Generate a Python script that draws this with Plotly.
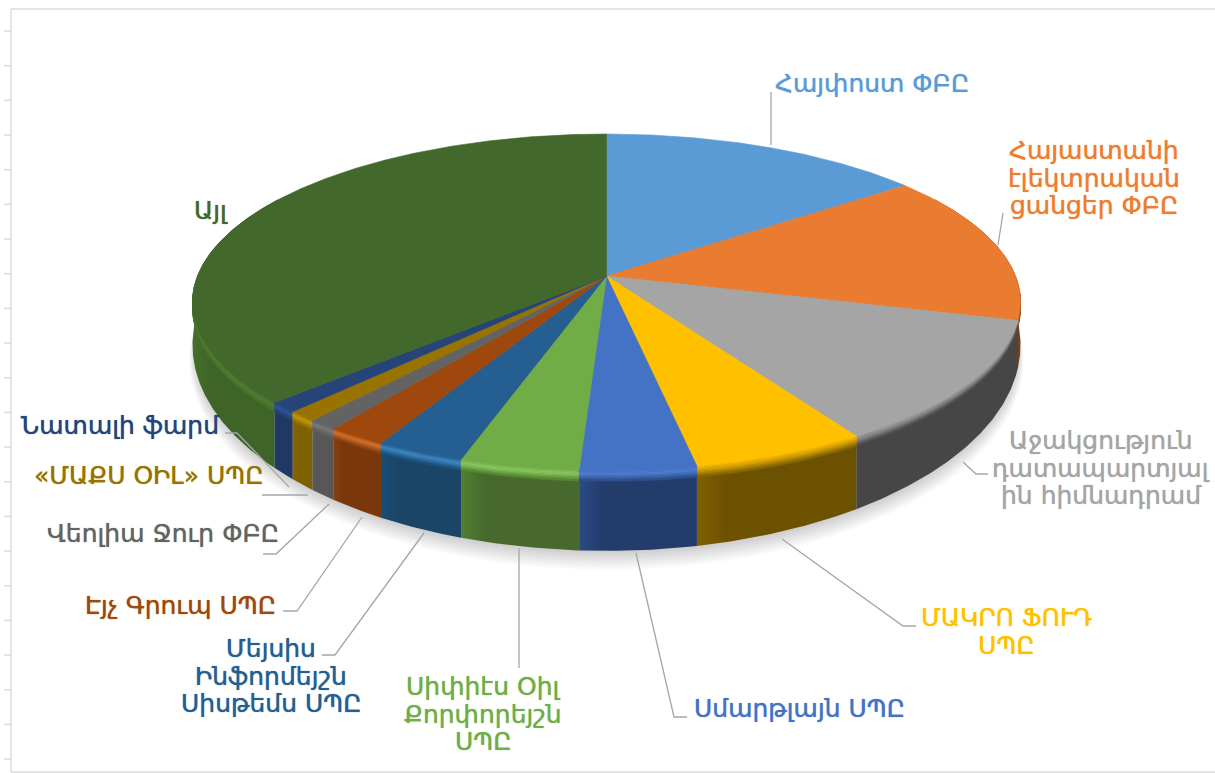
import numpy as np
import plotly.graph_objects as go

# ---- data (share of total, %) ----
companies = ["Հայփոստ ՓԲԸ", "Հայաստանի էլեկտրական ցանցեր ՓԲԸ", "Աջակցություն դատապարտյալ ին հիմնադրամ",
             "ՄԱԿՐՈ ՖՈՒԴ ՍՊԸ", "Սմարթլայն ՍՊԸ", "Սիփիէս Օիլ Քորփորեյշն ՍՊԸ",
             "Մեյսիս Ինֆորմեյշն Սիսթեմս ՍՊԸ", "Էյչ Գրուպ ՍՊԸ", "Վեոլիա Ջուր ՓԲԸ",
             "«ՄԱՔՍ ՕԻԼ» ՍՊԸ", "Նատալի ֆարմ", "Այլ"]
shares = [14.7, 14.5, 11.9, 5.9, 3.9, 4.0, 3.0, 2.0, 1.0, 1.0, 1.0, 37.1]

# ---- styles ----
top_colors = ["#5B9BD5", "#E97C30", "#A5A5A5", "#FFC000", "#4472C4", "#70AD47",
              "#255E91", "#9E480E", "#636363", "#997300", "#264478", "#43682B"]
rim_colors = ["#5B9BD5", "#A0561F", "#8A8A8A", "#D9A300", "#4F7FD0", "#8CCB62",
              "#3F8AC6", "#D9742F", "#7A7A7A", "#C89A10", "#30589C", "#527F35"]
side_dark = ["#2D4E6C", "#7A3F10", "#464646", "#6B5100", "#233C6B", "#47692D",
             "#1A4567", "#7A370B", "#575757", "#7F6000", "#1F3864", "#3F6428"]
side_light = ["#2D4E6C", "#8A4A14", "#464646", "#7F6000", "#2A4A85", "#50802F",
              "#1B4D75", "#84400E", "#5C5C5C", "#8A6A00", "#213E70", "#45702B"]
text_colors = ["#5B9BD5", "#ED7D31", "#A5A5A5", "#FFC000", "#4472C4", "#70AD47",
               "#255E91", "#9E480E", "#636363", "#997300", "#264478", "#43682B"]
# one entry per slice: lines of the label, their centre x and each line's y
labels = [(["Հայփոստ ՓԲԸ"], 872, [83]),
          (["Հայաստանի", "էլեկտրական", "ցանցեր ՓԲԸ"], 1094, [150, 178, 205]),
          (["Աջակցություն", "դատապարտյալ", "ին հիմնադրամ"], 1101, [440, 468, 495]),
          (["ՄԱԿՐՈ ՖՈՒԴ", "ՍՊԸ"], 1006, [617, 645]),
          (["Սմարթլայն ՍՊԸ"], 799, [708]),
          (["Սիփիէս Օիլ", "Քորփորեյշն", "ՍՊԸ"], 483, [686, 714, 741]),
          (["Մեյսիս", "Ինֆորմեյշն", "Սիսթեմս ՍՊԸ"], 271, [648, 676, 703]),
          (["Էյչ Գրուպ ՍՊԸ"], 180, [605]),
          (["Վեոլիա Ջուր ՓԲԸ"], 163, [533]),
          (["«ՄԱՔՍ ՕԻԼ» ՍՊԸ"], 149, [475]),
          (["Նատալի ֆարմ"], 120, [425]),
          (["Այլ"], 211, [210])]
leaders = [[(771, 92), (771, 145)], [(1003, 213), (998, 245)], [(988, 474), (976, 474), (963, 462)],
           [(916, 626), (903, 626), (782, 539)], [(687, 717), (674, 717), (636, 553)], [(519, 668), (519, 548)],
           [(322, 655), (335, 655), (424, 533)], [(283, 611), (297, 611), (362, 517)],
           [(263, 554), (276, 554), (329, 504)], [(262, 495), (308, 495)],
           [(225, 433), (237, 433), (289, 487)]]
FONT = "DejaVu Sans"
FONT_SIZE = 25

# ---- projection of the pie disc ----
CX, K = 606.5, 0.155
A_TOP, B_TOP, CY_TOP = 409.0, 164.0, 276.0
A_BOT, B_BOT, CY_BOT = 409.0, 201.0, 313.0


def ring(theta_deg, f=0.0, grow=0.0, dy=0.0):
    t = np.radians(theta_deg)
    a = A_TOP + (A_BOT - A_TOP) * f + grow
    b = B_TOP + (B_BOT - B_TOP) * f + grow
    cy = CY_TOP + (CY_BOT - CY_TOP) * f + dy
    w = 1 + K * np.cos(t)
    return CX + a * np.sin(t) / w, cy - b * np.cos(t) / w


def hex_mix(c1, c2, m):
    p = [int(c1[i:i + 2], 16) for i in (1, 3, 5)]
    q = [int(c2[i:i + 2], 16) for i in (1, 3, 5)]
    return "#%02X%02X%02X" % tuple(round(x + (y - x) * m) for x, y in zip(p, q))


fig = go.Figure()


def poly(x, y, color, **kw):
    fig.add_trace(go.Scatter(x=x, y=y, mode="lines", fill="toself", fillcolor=color,
                             line=dict(width=0.6, color=color if color.startswith("#") else "rgba(0,0,0,0)"),
                             hoverinfo="skip", showlegend=False, **kw))


edges = np.cumsum([0.0] + shares) / sum(shares) * 360.0

# soft shadow under the disc
full = np.linspace(0, 360, 361)
for i in range(12, 0, -1):
    sx, sy = ring(full, 1.0, grow=i * 0.6 - 4, dy=i * 1.25)
    poly(sx, sy, "rgba(0,0,0,0.018)")

# side wall, back to front
order = sorted(range(len(shares)), key=lambda n: -abs((edges[n] + edges[n + 1]) / 2 - 180))
for n in order:
    t0, t1 = max(edges[n], 60.0), min(edges[n + 1], 300.0)
    if t1 <= t0:
        continue
    th = np.linspace(t0, t1, max(int((t1 - t0) * 3), 2))
    x1, y1 = ring(th, 0.0)
    x2, y2 = ring(th[::-1], 1.0)
    xs, ys = np.r_[x1, x2, x1[0]], np.r_[y1, y2, y1[0]]
    fig.add_trace(go.Scatter(x=xs, y=ys, mode="lines", fill="toself",
                             fillgradient=dict(type="horizontal",
                                               colorscale=[[0, side_light[n]], [0.2, side_dark[n]], [1, side_dark[n]]]),
                             line=dict(width=0), hoverinfo="skip", showlegend=False))

# bevel on the rim
STEPS = 8
BEVEL = 0.14
for n in order:
    t0, t1 = max(edges[n], 60.0), min(edges[n + 1], 300.0)
    if t1 <= t0:
        continue
    th = np.linspace(t0, t1, max(int((t1 - t0) * 3), 2))
    for s in range(STEPS):
        f0, f1 = BEVEL * s / STEPS, BEVEL * (s + 1) / STEPS
        m = (s + 0.5) / STEPS
        if m < 0.4:
            col = hex_mix(top_colors[n], rim_colors[n], m / 0.4)
        else:
            col = hex_mix(rim_colors[n], side_light[n], (m - 0.4) / 0.6)
        x1, y1 = ring(th, f0)
        x2, y2 = ring(th[::-1], f1)
        poly(np.r_[x1, x2, x1[0]], np.r_[y1, y2, y1[0]], col)

# top face
for n in range(len(shares)):
    th = np.linspace(edges[n], edges[n + 1], max(int(shares[n] * 12), 2))
    x, y = ring(th)
    poly(np.r_[CX, x, CX], np.r_[CY_TOP, y, CY_TOP], top_colors[n])

# leader lines
for pts in leaders:
    fig.add_trace(go.Scatter(x=[p[0] for p in pts], y=[p[1] for p in pts], mode="lines",
                             line=dict(color="#A6A6A6", width=1.3), hoverinfo="skip", showlegend=False))

# frame and stray axis ticks
shapes = [dict(type="line", x0=11, x1=11, y0=9, y1=772),
          dict(type="line", x0=11, x1=1215, y0=9, y1=9),
          dict(type="line", x0=11, x1=1215, y0=772, y1=772)]
shapes += [dict(type="line", x0=4, x1=11, y0=y, y1=y) for y in np.arange(31, 765, 34.67)]
for s in shapes:
    s["line"] = dict(color="#DCDCDC", width=1.5)
    s["layer"] = "below"

annotations = []
for i, (lines, x, ys) in enumerate(labels):
    for line, y in zip(lines, ys):
        annotations.append(dict(x=x, y=y, text=line, showarrow=False, xanchor="center", yanchor="middle",
                                font=dict(family=FONT, size=FONT_SIZE, color=text_colors[i],
                                          shadow="0 0 1px " + text_colors[i])))

fig.update_layout(width=1215, height=773, margin=dict(l=0, r=0, t=0, b=0), autosize=False,
                  paper_bgcolor="white", plot_bgcolor="white", shapes=shapes, annotations=annotations,
                  xaxis=dict(range=[0, 1215], visible=False, fixedrange=True),
                  yaxis=dict(range=[773, 0], visible=False, fixedrange=True))
fig.write_html("out.html", config=dict(displayModeBar=False),
               post_script="document.body.style.margin='0';document.body.style.overflow='hidden';")
